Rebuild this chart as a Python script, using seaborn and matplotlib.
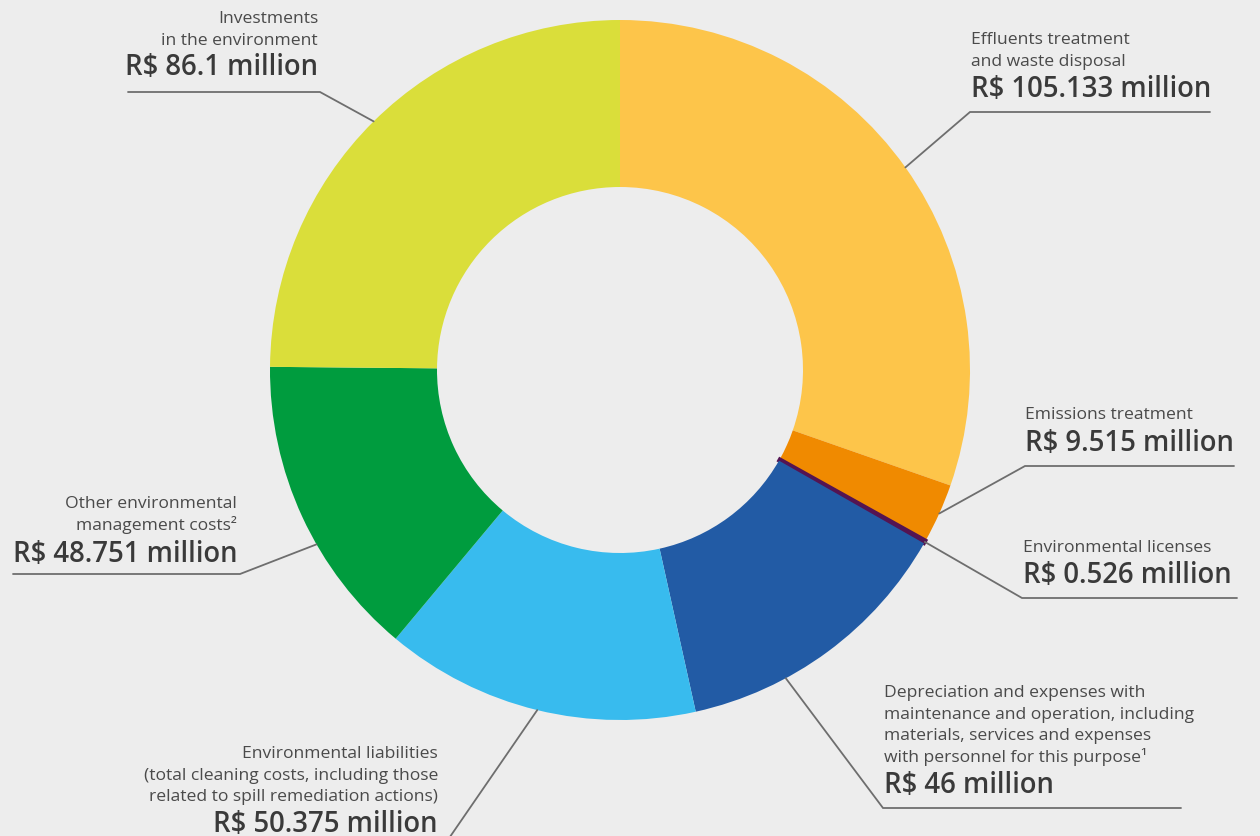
import matplotlib
matplotlib.use("Agg")
import matplotlib.pyplot as plt
import seaborn as sns
import numpy as np

# Environmental expenditure breakdown (R$ million)
categories = [
    "Effluents treatment\nand waste disposal",
    "Emissions treatment",
    "Environmental licenses",
    "Depreciation and expenses with\nmaintenance and operation, including\nmaterials, services and expenses\nwith personnel for this purpose\u00b9",
    "Environmental liabilities\n(total cleaning costs, including those\nrelated to spill remediation actions)",
    "Other environmental\nmanagement costs\u00b2",
    "Investments\nin the environment",
]
values = [105.133, 9.515, 0.526, 46, 50.375, 48.751, 86.1]
value_labels = ["R$ 105.133 million", "R$ 9.515 million", "R$ 0.526 million",
                "R$ 46 million", "R$ 50.375 million", "R$ 48.751 million",
                "R$ 86.1 million"]
colors = ["#FDC54A", "#F08A00", "#541452", "#225BA5", "#38BBEE", "#009C3E", "#DADE3A"]

W, H = 1260, 837
BG = "#EDEDED"
TXT = "#4A4A4A"
VAL = "#3A3A3A"
LINE = "#6E6E6E"

sns.set_theme(style="white")
plt.rcParams["font.family"] = ["Open Sans", "DejaVu Sans"]

fig = plt.figure(figsize=(W / 100, H / 100), dpi=100, facecolor=BG)
ax = fig.add_axes([0, 0, 1, 1])
ax.set_facecolor(BG)

cx, cy, R = 620, H - 371, 350
palette = sns.color_palette(colors)
wedges, _ = ax.pie(values, colors=palette, startangle=90,
                   counterclock=False, radius=R, center=(cx, cy),
                   wedgeprops=dict(width=R - 183, linewidth=0), frame=True)
# give the very small slice an outline in its own colour so it stays visible
wedges[2].set_edgecolor(palette[2])
wedges[2].set_linewidth(2.6)

ax.set_xlim(0, W)
ax.set_ylim(0, H)
ax.set_aspect("equal")
ax.axis("off")

# label layout in pixel space: where along the wedge the leader starts,
# elbow point, underline end, text anchor x, alignment, text baselines
layout = [
    dict(frac=0.5, elbow=(970, 113), end=1210, tx=971, ha="left", desc_base=44, val_base=97),
    dict(frac=0.5, elbow=(1025, 467), end=1234, tx=1025, ha="left", desc_base=419, val_base=451),
    dict(frac=0.5, elbow=(1022, 599), end=1237, tx=1023, ha="left", desc_base=552, val_base=583),
    dict(frac=0.67, elbow=(883, 809), end=1181, tx=884, ha="left", desc_base=697, val_base=793),
    dict(frac=0.5, elbow=(443, 848), end=150, tx=438, ha="right", desc_base=758, val_base=832),
    dict(frac=0.4, elbow=(240, 575), end=13, tx=237, ha="right", desc_base=508, val_base=562),
    dict(frac=0.5, elbow=(320, 93), end=128, tx=318, ha="right", desc_base=23, val_base=75),
]

line_gap = 21.7
for w, cat, val, lay in zip(wedges, categories, value_labels, layout):
    t1, t2 = w.theta1, w.theta2
    ang = np.deg2rad(t2 - (t2 - t1) * lay["frac"])
    sx, sy = cx + R * np.cos(ang), cy + R * np.sin(ang)
    ex, ey = lay["elbow"]
    ax.plot([sx, ex, lay["end"]], [sy, H - ey, H - ey], color=LINE, lw=1.3,
            solid_joinstyle="miter", clip_on=True)
    for i, ln in enumerate(cat.split("\n")):
        ax.text(lay["tx"], H - (lay["desc_base"] + i * line_gap), ln, ha=lay["ha"],
                va="baseline", fontsize=12.6, color=TXT, fontweight="normal")
    ax.text(lay["tx"], H - lay["val_base"], val, ha=lay["ha"], va="baseline",
            fontsize=19.8, color=VAL, fontweight="semibold")

fig.savefig("out.png", dpi=100, facecolor=BG)
